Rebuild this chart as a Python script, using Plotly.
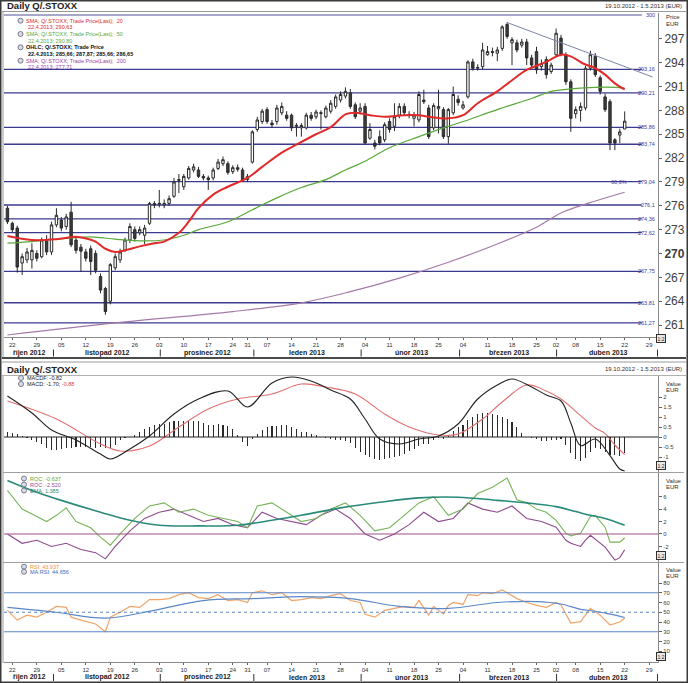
import plotly.graph_objects as go

W, H = 688, 683
FONT = "Liberation Sans, Arial, Helvetica, sans-serif"


def X(p):
    return p / W


def Y(p):
    return 1 - p / H


# ---------------- data ----------------
day_idx = list(range(127))
open_ = [275.7, 273.8, 273.2, 268.8, 269.2, 269.2, 270.0, 269.6, 271.7, 270.2,
         273.6, 274.2, 273.4, 275.2, 271.7, 270.8, 270.2, 270.6, 270.0, 267.1,
         265.6, 264.0, 268.2, 269.2, 270.4, 271.7, 273.0, 272.6, 272.3, 273.8,
         276.3, 276.2, 276.1, 276.3, 277.2, 279.2, 278.4, 279.5, 280.5, 280.5,
         279.7, 279.5, 279.5, 280.7, 281.3, 281.3, 280.3, 280.8, 280.5, 279.3,
         281.5, 285.6, 286.6, 288.1, 286.4, 286.6, 287.7, 287.4, 287.4, 286.0,
         285.8, 285.8, 287.4, 287.2, 287.6, 287.2, 287.9, 288.5, 289.3, 289.8,
         290.2, 288.7, 287.9, 288.5, 284.5, 283.9, 284.7, 284.3, 286.6, 286.0,
         287.4, 288.5, 287.5, 287.0, 286.8, 289.3, 288.3, 285.8, 288.2, 288.1,
         284.7, 287.7, 289.4, 288.3, 289.7, 294.1, 293.3, 293.5, 295.0, 295.4,
         295.2, 295.8, 298.8, 296.5, 296.5, 296.2, 296.6, 294.6, 295.4, 293.5,
         294.4, 292.9, 295.0, 297.1, 295.0, 291.6, 287.6, 288.0, 288.3, 293.3,
         294.8, 292.1, 289.7, 289.1, 284.3, 284.9, 285.66]
high = [276.0, 274.0, 273.5, 270.0, 270.7, 271.3, 270.4, 272.0, 272.3, 274.0,
        275.7, 274.6, 275.0, 276.5, 272.0, 271.2, 270.6, 271.0, 270.4, 267.5,
        265.8, 268.8, 270.0, 270.6, 272.0, 273.8, 273.4, 273.4, 273.6, 276.5,
        276.6, 278.0, 276.8, 277.3, 279.5, 280.0, 280.0, 281.0, 281.3, 280.9,
        280.0, 279.8, 280.8, 281.9, 282.2, 281.6, 281.1, 281.2, 280.8, 280.0,
        285.5, 287.2, 288.2, 288.4, 286.8, 288.7, 289.0, 287.9, 287.6, 286.4,
        286.4, 287.7, 287.8, 288.1, 288.0, 288.6, 289.3, 290.0, 290.4, 290.9,
        290.7, 289.0, 288.9, 288.9, 286.4, 284.3, 285.5, 286.5, 287.0, 288.9,
        288.9, 288.9, 287.9, 287.8, 290.4, 290.6, 288.7, 288.9, 290.6, 288.4,
        288.3, 291.0, 289.9, 289.2, 294.3, 294.5, 293.8, 296.5, 296.1, 295.9,
        296.0, 298.7, 299.1, 297.2, 296.9, 297.0, 297.0, 295.0, 296.0, 294.4,
        294.8, 294.0, 298.3, 297.5, 295.3, 291.9, 288.5, 289.0, 293.6, 295.5,
        295.2, 292.4, 290.1, 289.4, 284.5, 285.7, 287.87]
low = [273.7, 272.7, 267.6, 267.3, 268.8, 268.1, 269.0, 269.4, 269.8, 269.8,
       273.3, 272.8, 273.0, 270.8, 270.0, 267.7, 269.0, 267.3, 267.5, 265.0,
       262.3, 263.6, 267.9, 268.8, 270.2, 271.3, 271.5, 272.3, 271.2, 273.6,
       275.7, 275.8, 275.7, 276.0, 277.0, 277.6, 278.0, 279.3, 280.2, 279.5,
       279.2, 278.0, 279.2, 280.5, 281.0, 279.9, 280.0, 280.3, 279.0, 279.0,
       281.3, 285.3, 286.3, 286.3, 285.8, 286.2, 287.4, 286.7, 285.4, 284.7,
       284.7, 285.6, 286.7, 286.9, 285.6, 287.0, 287.6, 288.2, 289.0, 289.5,
       288.2, 286.9, 287.5, 283.7, 284.3, 283.1, 283.6, 284.0, 285.2, 285.4,
       287.0, 287.4, 287.0, 286.0, 286.5, 288.8, 284.4, 285.5, 285.1, 284.4,
       283.8, 287.4, 288.6, 288.1, 289.5, 293.0, 293.0, 293.2, 294.9, 294.8,
       294.2, 295.5, 297.0, 293.7, 295.3, 295.9, 293.7, 293.3, 292.6, 293.0,
       292.0, 292.6, 294.8, 294.8, 291.2, 285.3, 287.0, 286.6, 288.0, 293.0,
       292.2, 290.0, 287.8, 283.0, 283.0, 283.9, 285.66]
close = [274.0, 273.0, 268.3, 269.6, 270.2, 270.4, 269.4, 271.7, 270.2, 273.6,
         274.8, 273.2, 274.6, 271.1, 270.4, 270.3, 269.4, 269.0, 267.9, 265.4,
         262.7, 268.6, 269.6, 270.2, 271.7, 273.4, 271.9, 273.0, 273.2, 276.3,
         276.1, 276.3, 276.3, 276.9, 279.0, 279.3, 279.7, 280.7, 280.9, 279.7,
         279.5, 279.3, 280.5, 281.5, 281.8, 280.2, 280.8, 280.6, 279.3, 279.7,
         285.3, 286.8, 287.9, 286.6, 286.2, 288.3, 288.5, 287.0, 285.8, 286.1,
         286.1, 287.4, 287.0, 287.8, 287.7, 288.3, 288.9, 289.7, 290.0, 290.4,
         288.5, 287.2, 288.3, 283.9, 285.6, 283.5, 283.9, 286.2, 285.6, 287.2,
         288.5, 287.7, 287.4, 287.4, 290.0, 289.1, 284.7, 288.6, 288.5, 284.7,
         288.1, 290.0, 289.0, 288.7, 294.1, 293.3, 293.4, 295.6, 295.4, 295.3,
         295.6, 298.5, 297.3, 296.9, 295.6, 296.6, 294.6, 293.7, 293.1, 293.9,
         292.5, 293.7, 297.7, 295.0, 291.6, 287.0, 288.1, 288.5, 293.3, 295.0,
         292.5, 290.4, 288.1, 283.9, 283.9, 285.3, 286.65]

sma20_x = [0, 5, 10, 14, 16, 18, 20, 22, 24, 27, 30, 32, 35, 37, 39, 42, 45, 49, 52, 56,
           59, 63, 66, 69, 71, 74, 77, 81, 84, 86, 90, 93, 96, 100, 103, 106, 110, 113,
           115, 117.5, 120, 122, 124, 126]
sma20_y = [272.2, 271.7, 271.8, 272.1, 271.9, 271.5, 270.6, 270.2, 270.4, 270.9, 271.3,
           271.5, 272.6, 274.0, 275.7, 277.4, 278.4, 279.5, 280.9, 282.7, 283.7, 285.0,
           285.9, 287.5, 287.7, 287.4, 287.2, 287.4, 287.4, 287.2, 287.0, 287.4, 288.9,
           290.4, 291.8, 293.1, 294.1, 295.0, 294.8, 293.9, 293.3, 292.5, 291.4, 290.63]
sma50_x = [0, 5, 12, 17, 19, 22, 27, 32, 36, 39, 45, 50, 55, 60, 65, 69, 73, 78, 84, 89,
           93, 100, 107, 111, 115, 120, 124, 126]
sma50_y = [271.3, 271.5, 271.9, 272.1, 272.0, 271.8, 271.6, 271.7, 272.3, 273.0, 274.0,
           275.5, 277.0, 278.3, 279.3, 280.5, 281.6, 283.3, 284.7, 285.8, 286.6, 288.1,
           289.5, 290.4, 290.7, 290.9, 290.9, 290.8]
sma200_x = [0, 22, 46, 60, 70, 80, 90, 100, 108, 113, 120, 126]
sma200_y = [259.75, 261.27, 262.7, 263.8, 265.2, 266.9, 268.9, 271.2, 273.3, 275.1, 276.6, 277.71]

level_values = [300, 293.16, 290.21, 285.86, 283.74, 279.04, 276.1, 274.36, 272.62, 267.75, 263.81, 261.27]
level_labels = ["300", "293,16", "290,21", "285,86", "283,74", "279,04", "276,1", "274,36",
                "272,62", "267,75", "263,81", "261,27"]
trend_x = [102, 131.7]
trend_y = [299.05, 292.2]

macd_x = [0, 5, 9, 14, 19, 21, 25, 29, 34, 39, 45, 49, 54, 58, 62, 66, 70, 73, 76, 80,
          84, 88, 92, 96, 100, 103, 107, 110, 113, 115, 117, 120, 123, 125, 126]
macd_y = [2.05, 1.2, 0.35, -0.15, -0.85, -1.1, -0.6, 0.05, 1.15, 1.9, 2.3, 1.5, 2.7, 3.0,
          2.8, 2.35, 1.9, 0.9, -0.1, -0.35, -0.1, 0.05, 0.65, 1.9, 2.6, 2.9, 2.5, 2.1, 1.8,
          0.7, -0.43, -0.1, -0.93, -1.6, -1.70]
signal_x = [0, 10, 19, 23, 29, 35, 41, 47, 54, 60, 65, 71, 77, 82, 88, 92, 97, 101, 106,
            110, 113, 117, 120, 122, 124, 126]
signal_y = [1.8, 0.9, -0.35, -0.7, -0.45, 0.5, 1.4, 1.9, 2.15, 2.65, 2.5, 2.15, 1.15, 0.5,
            0.1, 0.15, 0.9, 1.75, 2.6, 2.3, 1.9, 1.07, 0.45, 0.17, -0.4, -0.88]
macd_hist = [0.25, 0.19, 0.13, 0.07, -0.04, -0.15, -0.26, -0.37, -0.53, -0.64,
             -0.65, -0.61, -0.57, -0.53, -0.49, -0.5, -0.51, -0.52, -0.53, -0.5,
             -0.56, -0.57, -0.38, -0.15, -0.05, 0.01, 0.12, 0.23, 0.39, 0.5,
             0.59, 0.63, 0.67, 0.76, 0.8, 0.8, 0.8, 0.8, 0.8, 0.8,
             0.7, 0.6, 0.62, 0.63, 0.6, 0.57, 0.38, 0.1, -0.24, -0.47,
             -0.11, 0.16, 0.37, 0.48, 0.55, 0.57, 0.58, 0.6, 0.52, 0.38,
             0.25, 0.23, 0.16, 0.09, 0.02, -0.05, -0.09, -0.13, -0.17, -0.21,
             -0.3, -0.55, -0.73, -0.9, -1.0, -1.1, -1.15, -1.1, -1.05, -1.0,
             -0.95, -0.85, -0.72, -0.58, -0.47, -0.35, -0.33, -0.17, -0.05, -0.11,
             0.08, 0.31, 0.5, 0.6, 0.85, 1.0, 1.15, 1.2, 1.2, 1.15,
             1.1, 1.0, 0.9, 0.75, 0.5, 0.2, 0.0, -0.05, -0.1, -0.18,
             -0.2, -0.17, -0.13, -0.1, -0.4, -0.8, -1.1, -1.2, -1.05, -0.75,
             -0.55, -0.6, -0.77, -0.88, -0.9, -0.95, -0.82]

roc_g_x = [0, 3, 5, 8, 10, 12, 14, 17, 19, 21, 23, 26, 29, 32, 35, 38, 41, 44, 47, 49,
           51, 54, 57, 60, 63, 66, 69, 72, 75, 78, 81, 84, 87, 90, 93, 96, 99, 102, 104, 106,
           108, 110, 112, 114, 115, 117, 119, 120, 122, 123, 125, 126]
roc_g_y = [7.0, 4.0, 3.2, 2.0, 3.0, 4.2, 2.0, 1.0, -0.5, -1.8, 0.0, 2.5, 4.5, 5.0, 3.5, 4.0,
           3.0, 2.5, 2.0, 1.0, 4.5, 5.0, 3.5, 2.0, 2.5, 4.0, 5.0, 3.0, 0.5, 1.0, 3.0, 5.0,
           6.0, 3.0, 4.0, 6.5, 7.5, 9.0, 5.5, 5.0, 4.0, 3.5, 2.2, 0.1, -0.3, 0.1, 2.8, 3.0,
           1.1, -1.3, -1.3, -0.637]
roc_p_x = [0, 3, 6, 9, 12, 15, 18, 20, 22, 25, 28, 31, 34, 37, 40, 43, 46, 49, 52, 55,
           58, 61, 64, 67, 70, 73, 76, 79, 82, 85, 88, 91, 94, 97, 100, 103, 106, 109, 112, 114,
           115, 117, 118, 119, 122, 124, 125, 126]
roc_p_y = [0.0, -1.5, -1.0, -2.0, -1.5, -2.5, -3.0, -4.0, -2.0, 0.5, 2.5, 3.5, 4.0, 3.0, 2.0,
           2.5, 1.5, 1.0, 3.5, 2.5, 2.0, 1.5, 3.0, 4.0, 2.5, 0.0, -1.0, 0.0, 1.5, 3.5, 2.0,
           2.5, 5.0, 4.0, 3.5, 4.5, 2.5, 2.0, 1.1, -1.0, -1.5, -2.0, -1.0, -0.2, -2.1, -4.2,
           -3.8, -2.52]
ema_x = [0, 5, 11, 19, 25, 31, 39, 47, 54, 60, 68, 76, 84, 92, 100, 106, 112, 116, 119, 122, 126]
ema_y = [8.6, 7.0, 5.4, 3.5, 2.2, 1.4, 1.3, 1.4, 2.2, 3.0, 4.2, 5.1, 5.8, 5.9, 5.4, 5.0, 4.4,
         3.6, 3.0, 2.5, 1.385]

rsi_x = [0, 2, 4, 6, 8, 10, 12, 13, 15, 18, 20, 21, 23, 25, 27, 29, 31, 33, 35, 37,
         39, 41, 43, 45, 47, 49, 50, 52, 54, 56, 58, 60, 62, 64, 66, 68, 70, 72, 73, 75,
         77, 79, 81, 83, 84, 86, 87, 89, 90, 91, 93, 94, 96, 97, 99, 101, 102, 104, 106, 108,
         110, 112, 113, 115, 117, 119, 121, 123, 125, 126]
rsi_y = [52, 42, 47, 45, 50, 56, 55, 45, 42, 38, 30, 45, 50, 56, 55, 63, 63, 64, 68, 70,
         65, 64, 68, 62, 63, 60, 70, 72, 68, 70, 62, 63, 65, 64, 67, 69, 62, 60, 48, 45,
         52, 54, 56, 55, 62, 47, 56, 48, 57, 60, 58, 68, 67, 70, 69, 73, 70, 64, 60, 57,
         55, 60, 57.4, 39, 40.3, 54, 47, 36.9, 40, 43.937]
rsi_ma_x = [0, 10, 20, 30, 40, 50, 60, 70, 80, 90, 100, 108, 113, 117, 120, 123, 126]
rsi_ma_y = [55, 50, 44, 52, 62, 64, 66, 64, 56, 54, 60, 61, 58.5, 53, 51, 48, 44.656]

tick_idx = [1, 6, 11, 16, 21, 26, 31, 36, 41, 46, 49, 53, 58, 63, 68, 73, 78, 83, 88, 93,
            98, 103, 108, 112, 116, 121, 126, 131]
tick_text = ["22", "29", "05", "12", "19", "26", "03", "10", "17", "24", "31", "07", "14",
             "21", "28", "04", "11", "18", "25", "04", "11", "18", "25", "02", "08", "15",
             "22", "29"]
month_names = ["říjen 2012", "listopad 2012", "prosinec 2012", "leden 2013", "únor 2013",
               "březen 2013", "duben 2013"]
month_center = [4.5, 20.4, 40.8, 61.2, 82.4, 102.3, 122.7]
month_sep = [9.4, 31.2, 50.3, 72.2, 92.3, 112.1, 132.7]

# colours
RED = "#e02a2a"
GREEN = "#5aa83a"
PURPLE = "#a57aa8"
LEVEL = "#3a3a8e"

XR = [-0.7, 132.8]

fig = go.Figure()

fig.add_trace(go.Candlestick(
    x=day_idx, open=open_, high=high, low=low, close=close,
    increasing=dict(line=dict(color="#2a2a2a", width=1), fillcolor="#ffffff"),
    decreasing=dict(line=dict(color="#2a2a2a", width=1), fillcolor="#3d3d3d"),
    whiskerwidth=0, showlegend=False, xaxis="x", yaxis="y", hoverinfo="skip"))
fig.add_trace(go.Scatter(x=sma200_x, y=sma200_y, mode="lines",
                         line=dict(color=PURPLE, width=1.2, shape="spline"),
                         xaxis="x", yaxis="y", showlegend=False, hoverinfo="skip"))
fig.add_trace(go.Scatter(x=sma50_x, y=sma50_y, mode="lines",
                         line=dict(color=GREEN, width=1.2, shape="spline"),
                         xaxis="x", yaxis="y", showlegend=False, hoverinfo="skip"))
fig.add_trace(go.Scatter(x=sma20_x, y=sma20_y, mode="lines",
                         line=dict(color=RED, width=2, shape="spline"),
                         xaxis="x", yaxis="y", showlegend=False, hoverinfo="skip"))
fig.add_trace(go.Scatter(x=trend_x, y=trend_y, mode="lines",
                         line=dict(color="#7a82a8", width=1),
                         xaxis="x", yaxis="y", showlegend=False, hoverinfo="skip",
                         cliponaxis=False))

# MACD
fig.add_trace(go.Bar(x=day_idx, y=macd_hist, width=0.22, marker=dict(color="#2a2a2a", line=dict(width=0)),
                     xaxis="x2", yaxis="y2", showlegend=False, hoverinfo="skip"))
fig.add_trace(go.Scatter(x=signal_x, y=signal_y, mode="lines",
                         line=dict(color="#e07070", width=1.1, shape="spline"),
                         xaxis="x2", yaxis="y2", showlegend=False, hoverinfo="skip"))
fig.add_trace(go.Scatter(x=macd_x, y=macd_y, mode="lines",
                         line=dict(color="#222222", width=1.1, shape="spline"),
                         xaxis="x2", yaxis="y2", showlegend=False, hoverinfo="skip"))

# ROC
fig.add_trace(go.Scatter(x=roc_p_x, y=roc_p_y, mode="lines",
                         line=dict(color="#8c4a8c", width=1.1),
                         xaxis="x3", yaxis="y3", showlegend=False, hoverinfo="skip"))
fig.add_trace(go.Scatter(x=roc_g_x, y=roc_g_y, mode="lines",
                         line=dict(color="#78b45a", width=1.1),
                         xaxis="x3", yaxis="y3", showlegend=False, hoverinfo="skip"))
fig.add_trace(go.Scatter(x=ema_x, y=ema_y, mode="lines",
                         line=dict(color="#2a8a7a", width=1.6, shape="spline"),
                         xaxis="x3", yaxis="y3", showlegend=False, hoverinfo="skip"))

# RSI
fig.add_trace(go.Scatter(x=rsi_x, y=rsi_y, mode="lines",
                         line=dict(color="#f0a468", width=1.2),
                         xaxis="x4", yaxis="y4", showlegend=False, hoverinfo="skip"))
fig.add_trace(go.Scatter(x=rsi_ma_x, y=rsi_ma_y, mode="lines",
                         line=dict(color="#5a88c8", width=1.2, shape="spline"),
                         xaxis="x4", yaxis="y4", showlegend=False, hoverinfo="skip"))


# current value markers on the right axes
def marker(yv, color, axis, symbol="circle", size=4):
    fig.add_trace(go.Scatter(x=[134.4], y=[yv], mode="markers",
                             marker=dict(color=color, size=size, symbol=symbol),
                             xaxis="x" + axis, yaxis="y" + axis, cliponaxis=False,
                             showlegend=False, hoverinfo="skip"))


marker(close[-1], "#111111", "", "diamond", 5)
marker(sma20_y[-1], RED, "", "triangle-left", 5)
marker(sma50_y[-1], GREEN, "", "triangle-right", 5)
marker(sma200_y[-1], "#d04070", "", "circle", 3)
marker(signal_y[-1], "#c02020", "2", "circle", 5)
marker(ema_y[-1], "#2a8a7a", "3", "circle", 4)
marker(roc_g_y[-1], "#78b45a", "3", "circle", 4)
marker(roc_p_y[-1], "#a02050", "3", "circle", 4)
marker(rsi_ma_y[-1], "#3a6ab8", "4", "circle", 4)

shapes = []
annotations = []


def txt(x, y, s, size=6, color="#202020", xanchor="left", yanchor="middle",
        xref="paper", yref="paper"):
    annotations.append(dict(x=x, y=y, text=s, xref=xref, yref=yref, showarrow=False,
                            xanchor=xanchor, yanchor=yanchor,
                            font=dict(family=FONT, size=size, color=color)))


def hline_px(y, x0, x1, color, width=1, dash="solid"):
    shapes.append(dict(type="line", xref="paper", yref="paper", x0=X(x0), x1=X(x1),
                       y0=Y(y), y1=Y(y), line=dict(color=color, width=width, dash=dash)))


def rect_px(x0, y0, x1, y1, color, width=1, fill=None):
    shapes.append(dict(type="rect", xref="paper", yref="paper", x0=X(x0), x1=X(x1),
                       y0=Y(y1), y1=Y(y0), line=dict(color=color, width=width),
                       fillcolor=fill if fill else "rgba(0,0,0,0)", layer="below"))


# frames / title bars
rect_px(0.5, 0.5, 687.5, 682.5, "#3a3a3a", 2)
hline_px(11.5, 2, 686, "#9a9a9a", 1)
hline_px(358, 2, 686, "#4a4a4a", 2)
hline_px(362, 2, 686, "#9a9a9a", 1)
hline_px(375.5, 2, 686, "#b0b0b0", 1)
hline_px(472.5, 3, 684, "#a0a0a0", 1)
hline_px(562.5, 3, 684, "#a0a0a0", 1)
shapes.append(dict(type="line", xref="paper", yref="paper", x0=X(3), x1=X(3), y0=Y(357), y1=Y(12),
                   line=dict(color="#9a9a9a", width=1)))
shapes.append(dict(type="line", xref="paper", yref="paper", x0=X(3), x1=X(3), y0=Y(663), y1=Y(376),
                   line=dict(color="#9a9a9a", width=1)))

txt(X(5), Y(5.5), "<b>Daily Q/.STOXX</b>", 9.5, "#202020")
txt(X(684), Y(6), "19.10.2012 - 1.5.2013 (EUR)", 6, "#303030", xanchor="right")
txt(X(5), Y(369), "<b>Daily Q/.STOXX</b>", 9.5, "#202020")
txt(X(684), Y(369), "19.10.2012 - 1.5.2013 (EUR)", 6, "#303030", xanchor="right")

# level lines with labels
for v, lab in zip(level_values, level_labels):
    col = "#8a8ab8" if v == 300 else LEVEL
    shapes.append(dict(type="line", xref="x", yref="y", x0=-0.7, x1=129.5, y0=v, y1=v,
                       line=dict(color=col, width=1.3), layer="below"))
    txt(X(657), v, lab, 5.5, "#3a3aa0", xanchor="right", yref="y")
txt(X(629), 279.04, "60,0%", 5.5, "#3a3aa0", xanchor="right", yref="y")

# MACD zero line, ROC zero line, RSI levels
shapes.append(dict(type="line", xref="x2", yref="y2", x0=XR[0], x1=XR[1], y0=0, y1=0,
                   line=dict(color="#222222", width=1)))
shapes.append(dict(type="line", xref="x3", yref="y3", x0=XR[0], x1=XR[1], y0=0, y1=0,
                   line=dict(color="#a0508a", width=1.2)))
for lv, dsh in [(70, "solid"), (30, "solid"), (50, "dot")]:
    shapes.append(dict(type="line", xref="x4", yref="y4", x0=XR[0], x1=XR[1], y0=lv, y1=lv,
                       line=dict(color="#5a88c8", width=1, dash=dsh)))


# legends
def icon(x, y):
    shapes.append(dict(type="circle", xref="paper", yref="paper", x0=X(x - 2.5), x1=X(x + 2.5),
                       y0=Y(y + 2.5), y1=Y(y - 2.5), line=dict(color="#7a7a8a", width=1),
                       fillcolor="#d8dce8"))


main_leg = [
    ("SMA; Q/.STOXX; Trade Price(Last);  20", 20.7, RED, True),
    ("22.4.2013; 290,63", 27.3, RED, False),
    ("SMA; Q/.STOXX; Trade Price(Last);  50", 34.0, GREEN, True),
    ("22.4.2013; 290,80", 40.7, GREEN, False),
    ("<b>OHLC; Q/.STOXX; Trade Price</b>", 47.3, "#111111", True),
    ("<b>22.4.2013; 285,66; 287,87; 285,66; 286,65</b>", 54.0, "#111111", False),
    ("SMA; Q/.STOXX; Trade Price(Last);  200", 60.7, "#a040a0", True),
    ("22.4.2013; 277,71", 66.7, "#a040a0", False),
]
for s, yy, col, ic in main_leg:
    if ic:
        icon(20.5, yy)
    txt(X(24 if ic else 26), Y(yy), s, 5.5, col)

icon(21, 378)
icon(21, 384)
txt(X(25), Y(378), "MACDF: -0.82", 5.5, "#222222")
txt(X(25), Y(384), "MACD: -1.70; <span style='color:#e04040'>-0.88</span>", 5.5, "#222222")
icon(24, 478.5)
icon(24, 484.5)
icon(24, 490.5)
txt(X(28), Y(478.5), "ROC: -0.637", 5.5, "#5aa83a")
txt(X(28), Y(484.5), "ROC: -2.520", 5.5, "#9a4a9a")
txt(X(28), Y(490.5), "EMA: 1.385", 5.5, "#2a8a7a")
icon(24, 566.7)
icon(24, 571.7)
txt(X(28), Y(566.7), "RSI: 43.937", 5.5, "#f09040")
txt(X(28), Y(571.7), "MA:RSI: 44.656", 5.5, "#3a6ab8")

# axis titles
txt(X(664), Y(17), "Price", 6, "#303030")
txt(X(664), Y(24), "EUR", 6, "#303030")
for yy in (384, 481, 570):
    txt(X(664), Y(yy), "Value", 6, "#303030")
    txt(X(664), Y(yy + 6), "EUR", 6, "#303030")

# little scale boxes
for yy in (338, 470, 559.5, 660.5):
    annotations.append(dict(x=X(666), y=Y(yy), xref="paper", yref="paper", text="1:2",
                            showarrow=False, font=dict(family=FONT, size=5, color="#202020"),
                            bordercolor="#303030", borderwidth=1, borderpad=0.5, bgcolor="#e8e8e8"))

# month names and separators under both date axes
for yrow in (352.5, 677):
    for name, c in zip(month_names, month_center):
        annotations.append(dict(x=c, y=Y(yrow), xref="x", yref="paper", text="<b>" + name + "</b>",
                                showarrow=False, font=dict(family=FONT, size=7, color="#202020"),
                                xanchor="center", yanchor="middle"))
    for s in month_sep:
        shapes.append(dict(type="line", xref="x", yref="paper", x0=s, x1=s,
                           y0=Y(yrow + 4), y1=Y(yrow - 3), line=dict(color="#303030", width=1)))

ax_common = dict(range=XR, showgrid=False, zeroline=False, fixedrange=True,
                 domain=[X(4), X(658)])
y_common = dict(showgrid=False, zeroline=False, side="right", showline=True,
                linecolor="#8a8a8a", linewidth=1, ticks="outside", ticklen=3,
                tickcolor="#606060", fixedrange=True)

fig.update_layout(
    width=W, height=H, margin=dict(l=0, r=0, t=0, b=0),
    paper_bgcolor="#ffffff", plot_bgcolor="#ffffff",
    showlegend=False, bargap=0,
    font=dict(family=FONT, color="#303030"),
    xaxis=dict(**ax_common, anchor="y", showline=True, linecolor="#8a8a8a",
               tickvals=tick_idx, ticktext=tick_text, ticks="outside", ticklen=2,
               tickcolor="#606060", tickfont=dict(size=6, color="#303030"),
               rangeslider=dict(visible=False)),
    yaxis=dict(**y_common, anchor="x", domain=[Y(337), Y(13)], range=[259.5, 300.25],
               tickvals=[261, 264, 267, 270, 273, 276, 279, 282, 285, 288, 291, 294, 297],
               ticktext=["261", "264", "267", "<b>270</b>", "273", "276", "279", "282", "285",
                         "288", "291", "294", "297"],
               tickfont=dict(size=12, color="#404040")),
    xaxis2=dict(**ax_common, anchor="y2", showticklabels=False, showline=False),
    yaxis2=dict(**y_common, anchor="x2", domain=[Y(472), Y(376)], range=[-1.75, 3.05],
                tickvals=[-1, -0.5, 0, 0.5, 1, 1.5, 2],
                ticktext=["-1", "-0.5", "0", "0.5", "1", "1.5", "2"],
                tickfont=dict(size=6, color="#404040")),
    xaxis3=dict(**ax_common, anchor="y3", showticklabels=False, showline=False),
    yaxis3=dict(**y_common, anchor="x3", domain=[Y(562), Y(473)], range=[-4.5, 9.8],
                tickvals=[-2, 0, 2, 4, 6], ticktext=["-2", "0", "2", "4", "6"],
                tickfont=dict(size=6, color="#404040")),
    xaxis4=dict(**ax_common, anchor="y4", showline=True, linecolor="#8a8a8a",
                tickvals=tick_idx, ticktext=tick_text, ticks="outside", ticklen=2,
                tickcolor="#606060", tickfont=dict(size=6, color="#303030")),
    yaxis4=dict(**y_common, anchor="x4", domain=[Y(662), Y(563)], range=[-1, 100.5],
                tickvals=[10, 20, 30, 40, 50, 60, 70, 80],
                ticktext=["10", "20", "30", "40", "50", "60", "70", "80"],
                tickfont=dict(size=6, color="#404040")),
    shapes=shapes,
    annotations=annotations,
)

fig.write_html("out.html",
               config={"displayModeBar": False, "staticPlot": True},
               post_script="document.body.style.margin='0';document.body.style.padding='0';"
                           "document.documentElement.style.overflow='hidden';")
